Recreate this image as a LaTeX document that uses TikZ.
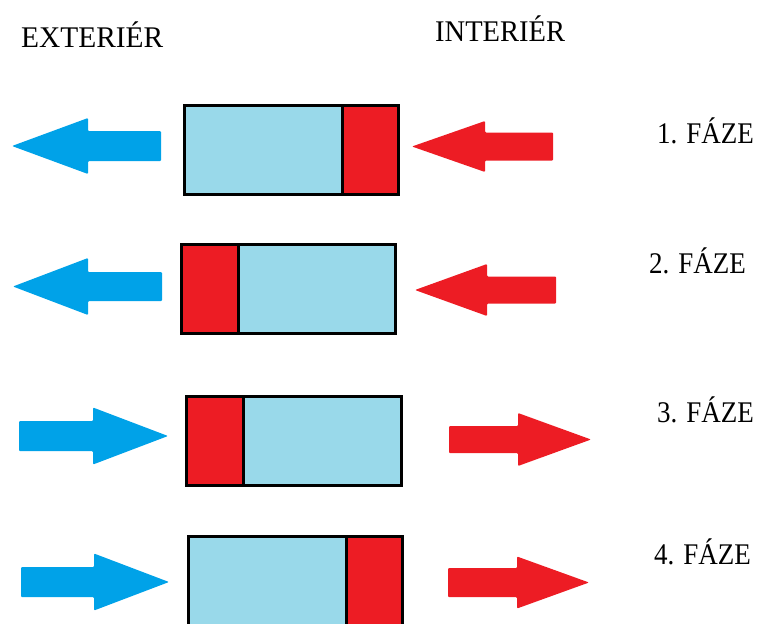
\documentclass[tikz,border=0pt]{standalone}
\usepackage{fontspec}
\setmainfont{Liberation Serif}
\definecolor{paleblue}{RGB}{153,217,234}
\definecolor{paintred}{RGB}{237,28,36}
\definecolor{paintblue}{RGB}{0,162,232}
% arrow: #1 colour, #2 tip x, #3 centre y, #4 head base x, #5 head half, #6 shaft end x, #7 shaft half
\newcommand\myarrowL[7]{%
  \fill[#1,rounded corners=1pt] (#2,#3) -- (#4,#3-#5) -- (#4,#3-#7) -- (#6,#3-#7) -- (#6,#3+#7) -- (#4,#3+#7) -- (#4,#3+#5) -- cycle;}
\newcommand\myarrowR[7]{%
  \fill[#1,rounded corners=1pt] (#2,#3) -- (#4,#3-#5) -- (#4,#3-#7) -- (#6,#3-#7) -- (#6,#3+#7) -- (#4,#3+#7) -- (#4,#3+#5) -- cycle;}
\tikzset{
  lbl/.style={anchor=base west,inner sep=0pt,font=\fontsize{30}{30}\selectfont},
  wall/.style={draw=black,line width=3pt},
}
\begin{document}
\begin{tikzpicture}[x=1pt,y=-1pt]
\useasboundingbox (0,0) rectangle (758,624);
% headers
\node[lbl] (ext) at (21,47) {\scalebox{0.98}[1]{EXTERIÉR}};
\node[lbl] (int) at (435,41) {\scalebox{0.95}[1]{INTERIÉR}};
% row 1
\fill[paleblue] (184.5,105.5) rectangle (342,194.5);
\fill[paintred] (342,105.5) rectangle (398.5,194.5);
\draw[wall] (184.5,105.5) rectangle (398.5,194.5);
\draw[wall] (342,105.5) -- (342,194.5);
\myarrowL{paintblue}{12}{146}{88}{28}{161}{15}
\myarrowL{paintred}{412}{146.5}{485}{25.5}{553}{14}
\node[lbl] (f1) at (657,143) {\scalebox{0.9}[1]{1. FÁZE}};
% row 2
\fill[paintred] (181.5,244.5) rectangle (238,333.5);
\fill[paleblue] (238,244.5) rectangle (395.5,333.5);
\draw[wall] (181.5,244.5) rectangle (395.5,333.5);
\draw[wall] (238,244.5) -- (238,333.5);
\myarrowL{paintblue}{13}{286.5}{88}{28.5}{162}{14.5}
\myarrowL{paintred}{415}{290}{487}{26}{556}{13.5}
\node[lbl] (f2) at (649,273) {\scalebox{0.9}[1]{2. FÁZE}};
% row 3
\fill[paintred] (186.5,396.5) rectangle (243,485.5);
\fill[paleblue] (243,396.5) rectangle (401.5,485.5);
\draw[wall] (186.5,396.5) rectangle (401.5,485.5);
\draw[wall] (243,396.5) -- (243,485.5);
\myarrowR{paintblue}{168}{436}{93}{28.5}{19}{15}
\myarrowR{paintred}{591}{439.5}{518}{26.5}{449}{13.5}
\node[lbl] (f3) at (657,422) {\scalebox{0.9}[1]{3. FÁZE}};
% row 4
\fill[paleblue] (188.5,536.5) rectangle (346,640);
\fill[paintred] (346,536.5) rectangle (402.5,640);
\draw[wall] (188.5,536.5) rectangle (402.5,640);
\draw[wall] (346,536.5) -- (346,640);
\myarrowR{paintblue}{169}{582}{94}{28.5}{21}{15}
\myarrowR{paintred}{589}{582.5}{517}{26}{448}{14.5}
\node[lbl] (f4) at (654,564) {\scalebox{0.9}[1]{4. FÁZE}};
\end{tikzpicture}
\end{document}
